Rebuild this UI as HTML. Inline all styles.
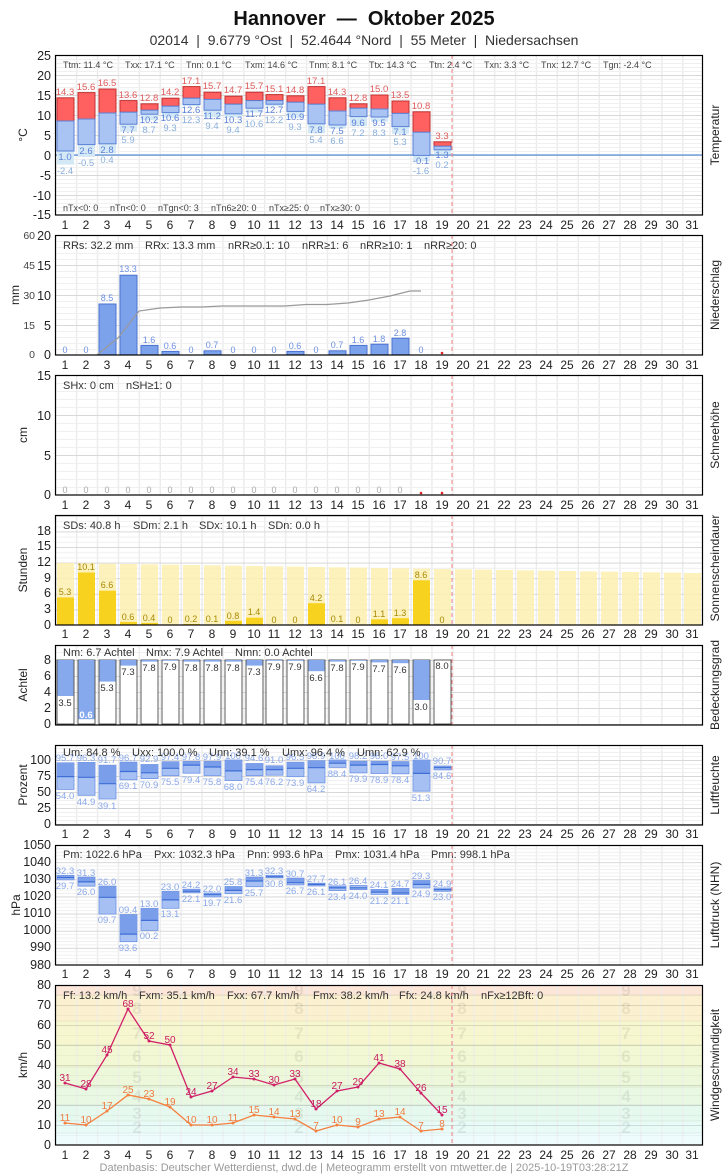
<!DOCTYPE html>
<html><head><meta charset="utf-8"><style>
body{margin:0;background:#fff;width:728px;height:1175px;overflow:hidden}
svg{display:block;font-family:"Liberation Sans",sans-serif}
.ax{font-size:12.5px;fill:#222;text-anchor:end}
.dn text{font-size:12px;fill:#222;text-anchor:middle}
.st{font-size:11px;fill:#333}
.st9{font-size:9px;fill:#444}
.rt{font-size:12px;fill:#222;text-anchor:middle}
.tr{font-size:9.5px;fill:#e05a5a;text-anchor:middle}
.tb{font-size:9.5px;fill:#5b82d8;text-anchor:middle}
.tl{font-size:9.5px;fill:#8ab0dd;text-anchor:middle}
.pl{font-size:9px;fill:#6d90e0;text-anchor:middle}
.hl{font-size:9.5px;fill:#8aa8ea;text-anchor:middle}
.sl{font-size:9px;fill:#a88800;text-anchor:middle}
.cl{font-size:9.5px;fill:#333;text-anchor:middle}
.wx{font-size:10px;fill:#c8185f;text-anchor:middle}
.wf{font-size:10px;fill:#f07a40;text-anchor:middle}
.bf{font-size:17px;font-weight:bold;fill:#000;fill-opacity:.07;text-anchor:middle}
.pre{white-space:pre}
</style></head><body>
<svg width="728" height="1175" viewBox="0 0 728 1175">
<defs>
<pattern id="vg" x="55" y="0" width="20.9" height="20" patternUnits="userSpaceOnUse"><rect x="-1" width="2.5" height="20" fill="#ececec"/></pattern>
<pattern id="hT" x="0" y="55" width="10" height="20" patternUnits="userSpaceOnUse"><rect width="10" height="1" fill="#d8d8d8"/><rect y="4" width="10" height="1" fill="#f0f0f0"/><rect y="8" width="10" height="1" fill="#f0f0f0"/><rect y="12" width="10" height="1" fill="#f0f0f0"/><rect y="16" width="10" height="1" fill="#f0f0f0"/></pattern>
<pattern id="hP" x="0" y="235" width="10" height="30" patternUnits="userSpaceOnUse"><rect width="10" height="1" fill="#d8d8d8"/><rect y="6" width="10" height="1" fill="#f0f0f0"/><rect y="12" width="10" height="1" fill="#f0f0f0"/><rect y="18" width="10" height="1" fill="#f0f0f0"/><rect y="24" width="10" height="1" fill="#f0f0f0"/></pattern>
<pattern id="hS" x="0" y="375" width="10" height="40" patternUnits="userSpaceOnUse"><rect width="10" height="1" fill="#d8d8d8"/><rect y="8" width="10" height="1" fill="#f0f0f0"/><rect y="16" width="10" height="1" fill="#f0f0f0"/><rect y="24" width="10" height="1" fill="#f0f0f0"/><rect y="32" width="10" height="1" fill="#f0f0f0"/></pattern>
<pattern id="hU" x="0" y="625" width="10" height="15.6" patternUnits="userSpaceOnUse"><rect width="10" height="1" fill="#d8d8d8"/><rect y="5.2" width="10" height="1" fill="#f0f0f0"/><rect y="10.4" width="10" height="1" fill="#f0f0f0"/></pattern>
<pattern id="hC" x="0" y="660" width="10" height="16" patternUnits="userSpaceOnUse"><rect width="10" height="1" fill="#d8d8d8"/><rect y="8" width="10" height="1" fill="#f0f0f0"/></pattern>
<pattern id="hH" x="0" y="760" width="10" height="16" patternUnits="userSpaceOnUse"><rect width="10" height="1" fill="#d8d8d8"/><rect y="4" width="10" height="1" fill="#f0f0f0"/><rect y="8" width="10" height="1" fill="#f0f0f0"/><rect y="12" width="10" height="1" fill="#f0f0f0"/></pattern>
<pattern id="hD" x="0" y="845" width="10" height="17.14" patternUnits="userSpaceOnUse"><rect width="10" height="1" fill="#d8d8d8"/><rect y="3.43" width="10" height="1" fill="#f0f0f0"/><rect y="6.86" width="10" height="1" fill="#f0f0f0"/><rect y="10.29" width="10" height="1" fill="#f0f0f0"/><rect y="13.71" width="10" height="1" fill="#f0f0f0"/></pattern>
<pattern id="hW" x="0" y="985" width="10" height="20" patternUnits="userSpaceOnUse"><rect width="10" height="1" fill="#000" fill-opacity=".12"/><rect y="10" width="10" height="1" fill="#000" fill-opacity=".04"/></pattern>
</defs>

<text class="pre" x="364" y="25" font-size="20" font-weight="bold" text-anchor="middle" fill="#111">Hannover  —  Oktober 2025</text>
<text class="pre" x="364" y="45" font-size="14" text-anchor="middle" fill="#333">02014  |  9.6779 °Ost  |  52.4644 °Nord  |  55 Meter  |  Niedersachsen</text>

<!-- TEMPERATURE -->
<rect x="55" y="55" width="648" height="160" fill="url(#vg)"/>
<rect x="55" y="55" width="648" height="160" fill="url(#hT)"/>
<line x1="55" y1="155" x2="703" y2="155" stroke="#5b8fd8" stroke-width="1.2"/>
<g fill="#ff6060" stroke="#c03030" stroke-width="1">
<rect x="57" y="97.8" width="17" height="23.2"/><rect x="78" y="92.6" width="17" height="26.4"/><rect x="99" y="89" width="17" height="24"/><rect x="120" y="100.6" width="17" height="11.6"/><rect x="141" y="103.8" width="17" height="6.4"/><rect x="162" y="98.2" width="17" height="8"/><rect x="183" y="86.6" width="17" height="11.6"/><rect x="204" y="92.2" width="17" height="7.2"/><rect x="225" y="96.2" width="17" height="8"/><rect x="246" y="92.2" width="17" height="8.4"/><rect x="266" y="94.6" width="17" height="6"/><rect x="287" y="95.8" width="17" height="6.4"/><rect x="308" y="86.6" width="17" height="17.6"/><rect x="329" y="97.8" width="17" height="13.2"/><rect x="350" y="103.8" width="17" height="4.4"/><rect x="371" y="95" width="17" height="14"/><rect x="392" y="101" width="17" height="12.4"/><rect x="413" y="111.8" width="17" height="20.4"/><rect x="434" y="141.8" width="17" height="4.4"/>
</g>
<g fill="#d4e8f6">
<rect x="57" y="151" width="17" height="13.6"/><rect x="78" y="144.6" width="17" height="12.4"/><rect x="99" y="143.8" width="17" height="9.6"/><rect x="120" y="124.2" width="17" height="7.2"/><rect x="141" y="114.2" width="17" height="6"/><rect x="162" y="112.6" width="17" height="5.2"/><rect x="183" y="104.6" width="17" height="1.2"/><rect x="204" y="110.2" width="17" height="7.2"/><rect x="225" y="113.8" width="17" height="3.6"/><rect x="246" y="108.2" width="17" height="4.4"/><rect x="266" y="104.2" width="17" height="2"/><rect x="287" y="111.4" width="17" height="6.4"/><rect x="308" y="123.8" width="17" height="9.6"/><rect x="329" y="125" width="17" height="3.6"/><rect x="350" y="116.6" width="17" height="9.6"/><rect x="371" y="117" width="17" height="4.8"/><rect x="392" y="126.6" width="17" height="7.2"/><rect x="413" y="155.4" width="17" height="6"/><rect x="434" y="149.8" width="17" height="4.4"/>
</g>
<g fill="#a9c3f2" stroke="#5b82d8" stroke-width="1">
<rect x="57" y="121" width="17" height="30"/><rect x="78" y="119" width="17" height="25.6"/><rect x="99" y="113" width="17" height="30.8"/><rect x="120" y="112.2" width="17" height="12"/><rect x="141" y="110.2" width="17" height="4"/><rect x="162" y="106.2" width="17" height="6.4"/><rect x="183" y="98.2" width="17" height="6.4"/><rect x="204" y="99.4" width="17" height="10.8"/><rect x="225" y="104.2" width="17" height="9.6"/><rect x="246" y="100.6" width="17" height="7.6"/><rect x="266" y="100.6" width="17" height="3.6"/><rect x="287" y="102.2" width="17" height="9.2"/><rect x="308" y="104.2" width="17" height="19.6"/><rect x="329" y="111" width="17" height="14"/><rect x="350" y="108.2" width="17" height="8.4"/><rect x="371" y="109" width="17" height="8"/><rect x="392" y="113.4" width="17" height="13.2"/><rect x="413" y="132.2" width="17" height="23.2"/><rect x="434" y="146.2" width="17" height="3.6"/>
</g>
<g class="tr"><text x="65" y="95">14.3</text><text x="86" y="90">15.6</text><text x="107" y="86">16.5</text><text x="128" y="98">13.6</text><text x="149" y="101">12.8</text><text x="170" y="95">14.2</text><text x="191" y="84">17.1</text><text x="212" y="89">15.7</text><text x="233" y="93">14.7</text><text x="254" y="89">15.7</text><text x="274" y="92">15.1</text><text x="295" y="93">14.8</text><text x="316" y="84">17.1</text><text x="337" y="95">14.3</text><text x="358" y="101">12.8</text><text x="379" y="92">15.0</text><text x="400" y="98">13.5</text><text x="421" y="109">10.8</text><text x="442" y="139">3.3</text></g>
<g class="tb"><text x="65" y="160">1.0</text><text x="86" y="154">2.6</text><text x="107" y="153">2.8</text><text x="128" y="133">7.7</text><text x="149" y="123">10.2</text><text x="170" y="121">10.6</text><text x="191" y="113">12.6</text><text x="212" y="119">11.2</text><text x="233" y="123">10.3</text><text x="254" y="117">11.7</text><text x="274" y="113">12.7</text><text x="295" y="120">10.9</text><text x="316" y="133">7.8</text><text x="337" y="134">7.5</text><text x="358" y="126">9.6</text><text x="379" y="126">9.5</text><text x="400" y="135">7.1</text><text x="421" y="164">-0.1</text><text x="442" y="158">1.3</text></g>
<g class="tl"><text x="65" y="174">-2.4</text><text x="86" y="166">-0.5</text><text x="107" y="163">0.4</text><text x="128" y="143">5.9</text><text x="149" y="133">8.7</text><text x="170" y="131">9.3</text><text x="191" y="123">12.3</text><text x="212" y="129">9.4</text><text x="233" y="133">9.4</text><text x="254" y="127">10.6</text><text x="274" y="123">12.2</text><text x="295" y="130">9.3</text><text x="316" y="143">5.4</text><text x="337" y="144">6.6</text><text x="358" y="136">7.2</text><text x="379" y="136">8.3</text><text x="400" y="145">5.3</text><text x="421" y="174">-1.6</text><text x="442" y="168">0.2</text></g>
<g class="st9"><text x="63" y="68">Ttm: 11.4 °C</text><text x="125" y="68">Txx: 17.1 °C</text><text x="186" y="68">Tnn: 0.1 °C</text><text x="245" y="68">Txm: 14.6 °C</text><text x="309" y="68">Tnm: 8.1 °C</text><text x="369" y="68">Ttx: 14.3 °C</text><text x="429" y="68">Ttn: 2.4 °C</text><text x="484" y="68">Txn: 3.3 °C</text><text x="541" y="68">Tnx: 12.7 °C</text><text x="603" y="68">Tgn: -2.4 °C</text>
<text x="63" y="211">nTx&lt;0: 0</text><text x="110" y="211">nTn&lt;0: 0</text><text x="158" y="211">nTgn&lt;0: 3</text><text x="211" y="211">nTn6≥20: 0</text><text x="269" y="211">nTx≥25: 0</text><text x="320" y="211">nTx≥30: 0</text></g>
<g class="ax"><text x="51" y="60">25</text><text x="51" y="80">20</text><text x="51" y="100">15</text><text x="51" y="120">10</text><text x="51" y="140">5</text><text x="51" y="160">0</text><text x="51" y="180">-5</text><text x="51" y="200">-10</text><text x="51" y="219">-15</text></g>

<!-- PRECIP -->
<rect x="55" y="235" width="648" height="120" fill="url(#vg)"/>
<rect x="55" y="235" width="648" height="120" fill="url(#hP)"/>
<g fill="#7da2ec" stroke="#4a72d0" stroke-width="1">
<rect x="99" y="304" width="17" height="51"/><rect x="120" y="275.2" width="17" height="79.8"/><rect x="141" y="345.4" width="17" height="9.6"/><rect x="162" y="351.4" width="17" height="3.6"/><rect x="204" y="350.8" width="17" height="4.2"/><rect x="287" y="351.4" width="17" height="3.6"/><rect x="329" y="350.8" width="17" height="4.2"/><rect x="350" y="345.4" width="17" height="9.6"/><rect x="371" y="344.2" width="17" height="10.8"/><rect x="392" y="338.2" width="17" height="16.8"/>
</g>
<polyline points="97,355 118,338 139,311 160,308 181,307 202,307 222,306 243,306 264,306 285,306 306,304.5 327,304.5 348,303 369,300 390,296 410,291 421,291" fill="none" stroke="#999" stroke-width="1.2"/>
<g class="pl"><text x="65" y="353">0</text><text x="86" y="353">0</text><text x="107" y="301">8.5</text><text x="128" y="272">13.3</text><text x="149" y="343">1.6</text><text x="170" y="349">0.6</text><text x="191" y="353">0</text><text x="212" y="348">0.7</text><text x="233" y="353">0</text><text x="254" y="353">0</text><text x="274" y="353">0</text><text x="295" y="349">0.6</text><text x="316" y="353">0</text><text x="337" y="348">0.7</text><text x="358" y="343">1.6</text><text x="379" y="342">1.8</text><text x="400" y="336">2.8</text><text x="421" y="353">0</text></g>
<circle cx="442" cy="353" r="1.3" fill="#e02020"/>
<g class="st"><text x="63" y="249">RRs: 32.2 mm</text><text x="145" y="249">RRx: 13.3 mm</text><text x="228" y="249">nRR≥0.1: 10</text><text x="302" y="249">nRR≥1: 6</text><text x="360" y="249">nRR≥10: 1</text><text x="424" y="249">nRR≥20: 0</text></g>
<g class="ax"><text x="51" y="240">20</text><text x="51" y="270">15</text><text x="51" y="300">10</text><text x="51" y="330">5</text><text x="51" y="359">0</text></g>
<g font-size="10.5" fill="#444" text-anchor="end"><text x="35" y="239">60</text><text x="35" y="269">45</text><text x="35" y="299">30</text><text x="35" y="329">15</text><text x="35" y="358">0</text></g>

<!-- SNOW -->
<rect x="55" y="375" width="648" height="120" fill="url(#vg)"/>
<rect x="55" y="375" width="648" height="120" fill="url(#hS)"/>
<g font-size="9" fill="#aaa" text-anchor="middle"><text x="65" y="493">0</text><text x="86" y="493">0</text><text x="107" y="493">0</text><text x="128" y="493">0</text><text x="149" y="493">0</text><text x="170" y="493">0</text><text x="191" y="493">0</text><text x="212" y="493">0</text><text x="233" y="493">0</text><text x="254" y="493">0</text><text x="274" y="493">0</text><text x="295" y="493">0</text><text x="316" y="493">0</text><text x="337" y="493">0</text><text x="358" y="493">0</text><text x="379" y="493">0</text><text x="400" y="493">0</text></g>
<circle cx="421" cy="493" r="1.3" fill="#e02020"/><circle cx="442" cy="493" r="1.3" fill="#e02020"/>
<g class="st"><text x="63" y="389">SHx: 0 cm</text><text x="126" y="389">nSH≥1: 0</text></g>
<g class="ax"><text x="51" y="380">15</text><text x="51" y="420">10</text><text x="51" y="460">5</text><text x="51" y="499">0</text></g>

<!-- SUN -->
<rect x="55" y="515" width="648" height="110" fill="url(#vg)"/>
<rect x="55" y="515" width="648" height="110" fill="url(#hU)"/>
<g fill="#fdf0b0" fill-opacity=".85">
<rect x="57" y="563" width="17" height="62"/><rect x="78" y="563.3" width="17" height="61.7"/><rect x="99" y="563.7" width="17" height="61.3"/><rect x="120" y="564" width="17" height="61"/><rect x="141" y="564.3" width="17" height="60.7"/><rect x="162" y="564.6" width="17" height="60.4"/><rect x="183" y="565" width="17" height="60"/><rect x="204" y="565.3" width="17" height="59.7"/><rect x="225" y="565.6" width="17" height="59.4"/><rect x="246" y="566" width="17" height="59"/><rect x="266" y="566.3" width="17" height="58.7"/><rect x="287" y="566.6" width="17" height="58.4"/><rect x="308" y="567" width="17" height="58"/><rect x="329" y="567.3" width="17" height="57.7"/><rect x="350" y="567.6" width="17" height="57.4"/><rect x="371" y="568" width="17" height="57"/><rect x="392" y="568.3" width="17" height="56.7"/><rect x="413" y="568.6" width="17" height="56.4"/><rect x="434" y="569" width="17" height="56"/><rect x="455" y="569.3" width="17" height="55.7"/><rect x="475" y="569.6" width="17" height="55.4"/><rect x="496" y="570" width="17" height="55"/><rect x="517" y="570.3" width="17" height="54.7"/><rect x="538" y="570.6" width="17" height="54.4"/><rect x="559" y="571" width="17" height="54"/><rect x="580" y="571.3" width="17" height="53.7"/><rect x="601" y="571.6" width="17" height="53.4"/><rect x="622" y="572" width="17" height="53"/><rect x="643" y="572.3" width="17" height="52.7"/><rect x="664" y="572.6" width="17" height="52.4"/><rect x="684" y="573" width="17" height="52"/>
</g>
<g fill="#f7d21e">
<rect x="57" y="597.4" width="17" height="27.6"/><rect x="78" y="572.5" width="17" height="52.5"/><rect x="99" y="590.7" width="17" height="34.3"/><rect x="120" y="621.9" width="17" height="3.1"/><rect x="141" y="622.9" width="17" height="2.1"/><rect x="183" y="624" width="17" height="1"/><rect x="204" y="624.5" width="17" height="0.5"/><rect x="225" y="620.8" width="17" height="4.2"/><rect x="246" y="617.7" width="17" height="7.3"/><rect x="308" y="603.2" width="17" height="21.8"/><rect x="329" y="624.5" width="17" height="0.5"/><rect x="371" y="619.3" width="17" height="5.7"/><rect x="392" y="618.2" width="17" height="6.8"/><rect x="413" y="580.3" width="17" height="44.7"/>
</g>
<g class="sl"><text x="65" y="595">5.3</text><text x="86" y="570">10.1</text><text x="107" y="588">6.6</text><text x="128" y="620">0.6</text><text x="149" y="621">0.4</text><text x="170" y="623">0</text><text x="191" y="622">0.2</text><text x="212" y="622">0.1</text><text x="233" y="619">0.8</text><text x="254" y="615">1.4</text><text x="274" y="623">0</text><text x="295" y="623">0</text><text x="316" y="601">4.2</text><text x="337" y="622">0.1</text><text x="358" y="623">0</text><text x="379" y="617">1.1</text><text x="400" y="616">1.3</text><text x="421" y="578">8.6</text><text x="442" y="623">0</text></g>
<g class="st"><text x="63" y="529">SDs: 40.8 h</text><text x="133" y="529">SDm: 2.1 h</text><text x="199" y="529">SDx: 10.1 h</text><text x="268" y="529">SDn: 0.0 h</text></g>
<g class="ax"><text x="51" y="535">18</text><text x="51" y="550">15</text><text x="51" y="566">12</text><text x="51" y="582">9</text><text x="51" y="597">6</text><text x="51" y="613">3</text><text x="51" y="629">0</text></g>

<!-- CLOUD -->
<rect x="55" y="645" width="648" height="80" fill="url(#vg)"/>
<rect x="55" y="645" width="648" height="80" fill="url(#hC)"/>
<g fill="#fff" stroke="#333" stroke-width=".8">
<rect x="57" y="660" width="17" height="64"/><rect x="78" y="660" width="17" height="64"/><rect x="99" y="660" width="17" height="64"/><rect x="120" y="660" width="17" height="64"/><rect x="141" y="660" width="17" height="64"/><rect x="162" y="660" width="17" height="64"/><rect x="183" y="660" width="17" height="64"/><rect x="204" y="660" width="17" height="64"/><rect x="225" y="660" width="17" height="64"/><rect x="246" y="660" width="17" height="64"/><rect x="266" y="660" width="17" height="64"/><rect x="287" y="660" width="17" height="64"/><rect x="308" y="660" width="17" height="64"/><rect x="329" y="660" width="17" height="64"/><rect x="350" y="660" width="17" height="64"/><rect x="371" y="660" width="17" height="64"/><rect x="392" y="660" width="17" height="64"/><rect x="413" y="660" width="17" height="64"/><rect x="434" y="660" width="17" height="64"/>
</g>
<g fill="#86a8ec">
<rect x="57.5" y="660" width="16" height="36"/><rect x="78.5" y="660" width="16" height="59.2"/><rect x="99.5" y="660" width="16" height="21.6"/><rect x="120.5" y="660" width="16" height="5.6"/><rect x="141.5" y="660" width="16" height="1.6"/><rect x="162.5" y="660" width="16" height="0.8"/><rect x="183.5" y="660" width="16" height="1.6"/><rect x="204.5" y="660" width="16" height="1.6"/><rect x="225.5" y="660" width="16" height="1.6"/><rect x="246.5" y="660" width="16" height="5.6"/><rect x="266.5" y="660" width="16" height="0.8"/><rect x="287.5" y="660" width="16" height="0.8"/><rect x="308.5" y="660" width="16" height="11.2"/><rect x="329.5" y="660" width="16" height="1.6"/><rect x="350.5" y="660" width="16" height="0.8"/><rect x="371.5" y="660" width="16" height="2.4"/><rect x="392.5" y="660" width="16" height="3.2"/><rect x="413.5" y="660" width="16" height="40"/>
</g>
<g class="cl"><text x="65" y="706">3.5</text><text x="86" y="718" fill="#fff" font-weight="bold">0.6</text><text x="107" y="691">5.3</text><text x="128" y="675">7.3</text><text x="149" y="671">7.8</text><text x="170" y="670">7.9</text><text x="191" y="671">7.8</text><text x="212" y="671">7.8</text><text x="233" y="671">7.8</text><text x="254" y="675">7.3</text><text x="274" y="670">7.9</text><text x="295" y="670">7.9</text><text x="316" y="681">6.6</text><text x="337" y="671">7.8</text><text x="358" y="670">7.9</text><text x="379" y="672">7.7</text><text x="400" y="673">7.6</text><text x="421" y="710">3.0</text><text x="442" y="669">8.0</text></g>
<g class="st"><text x="63" y="656">Nm: 6.7 Achtel</text><text x="146" y="656">Nmx: 7.9 Achtel</text><text x="235" y="656">Nmn: 0.0 Achtel</text></g>
<g class="ax"><text x="51" y="664">8</text><text x="51" y="680">6</text><text x="51" y="696">4</text><text x="51" y="712">2</text><text x="51" y="728">0</text></g>

<!-- HUMIDITY -->
<rect x="55" y="745" width="648" height="80" fill="url(#vg)"/>
<rect x="55" y="745" width="648" height="80" fill="url(#hH)"/>
<g fill="#a6c0f3" stroke="#6d92e4" stroke-width=".8">
<rect x="57" y="762.8" width="17" height="26.6"/><rect x="78" y="762.4" width="17" height="32.9"/><rect x="99" y="765.3" width="17" height="33.7"/><rect x="120" y="762.1" width="17" height="17.7"/><rect x="141" y="764.5" width="17" height="14.1"/><rect x="162" y="761.7" width="17" height="14"/><rect x="183" y="761.4" width="17" height="11.8"/><rect x="204" y="761.3" width="17" height="14.2"/><rect x="225" y="760" width="17" height="20.5"/><rect x="246" y="763.5" width="17" height="12.2"/><rect x="266" y="765.8" width="17" height="9.4"/><rect x="287" y="762.2" width="17" height="14.5"/><rect x="308" y="760.7" width="17" height="22.2"/><rect x="329" y="760" width="17" height="7.4"/><rect x="350" y="761.2" width="17" height="11.7"/><rect x="371" y="761.3" width="17" height="12.2"/><rect x="392" y="761.6" width="17" height="12.2"/><rect x="413" y="760" width="17" height="31.2"/><rect x="434" y="766" width="17" height="3.9"/>
</g>
<g fill="#7a9eea">
<rect x="57.4" y="763.2" width="16.2" height="13.4"/><rect x="78.4" y="762.8" width="16.2" height="14.5"/><rect x="99.4" y="765.7" width="16.2" height="18"/><rect x="120.4" y="762.5" width="16.2" height="9"/><rect x="141.4" y="764.9" width="16.2" height="7.9"/><rect x="162.4" y="762.1" width="16.2" height="6.2"/><rect x="183.4" y="761.8" width="16.2" height="3.3"/><rect x="204.4" y="761.7" width="16.2" height="5.3"/><rect x="225.4" y="760.4" width="16.2" height="10.5"/><rect x="246.4" y="763.9" width="16.2" height="5.7"/><rect x="266.4" y="766.2" width="16.2" height="3.4"/><rect x="287.4" y="762.6" width="16.2" height="5.7"/><rect x="308.4" y="761.1" width="16.2" height="6.6"/><rect x="329.4" y="760.4" width="16.2" height="2.8"/><rect x="350.4" y="761.6" width="16.2" height="3.5"/><rect x="371.4" y="761.7" width="16.2" height="2.8"/><rect x="392.4" y="762" width="16.2" height="3.8"/><rect x="413.4" y="760.4" width="16.2" height="13"/><rect x="434.4" y="766.4" width="16.2" height="1.3"/>
</g>
<g stroke="#3f6fd6" stroke-width="1.2">
<line x1="57" y1="776.6" x2="74" y2="776.6"/><line x1="78" y1="777.3" x2="95" y2="777.3"/><line x1="99" y1="783.7" x2="116" y2="783.7"/><line x1="120" y1="771.5" x2="137" y2="771.5"/><line x1="141" y1="772.8" x2="158" y2="772.8"/><line x1="162" y1="768.3" x2="179" y2="768.3"/><line x1="183" y1="765.1" x2="200" y2="765.1"/><line x1="204" y1="767" x2="221" y2="767"/><line x1="225" y1="770.9" x2="242" y2="770.9"/><line x1="246" y1="769.6" x2="263" y2="769.6"/><line x1="266" y1="769.6" x2="283" y2="769.6"/><line x1="287" y1="768.3" x2="304" y2="768.3"/><line x1="308" y1="767.7" x2="325" y2="767.7"/><line x1="329" y1="763.2" x2="346" y2="763.2"/><line x1="350" y1="765.1" x2="367" y2="765.1"/><line x1="371" y1="764.5" x2="388" y2="764.5"/><line x1="392" y1="765.8" x2="409" y2="765.8"/><line x1="413" y1="773.4" x2="430" y2="773.4"/><line x1="434" y1="767.7" x2="451" y2="767.7"/>
</g>
<g class="hl"><text x="65" y="761">95.7</text><text x="86" y="761">96.3</text><text x="107" y="763">91.7</text><text x="128" y="761">96.7</text><text x="149" y="762">92.9</text><text x="170" y="760">97.4</text><text x="191" y="760">97.8</text><text x="212" y="760">97.9</text><text x="233" y="759">100</text><text x="254" y="761">94.6</text><text x="274" y="763">91.0</text><text x="295" y="760">96.5</text><text x="316" y="759">98.9</text><text x="337" y="759">100</text><text x="358" y="759">98.2</text><text x="379" y="759">98.0</text><text x="400" y="760">97.5</text><text x="421" y="759">100</text><text x="442" y="764">90.7</text>
<text x="65" y="799">54.0</text><text x="86" y="805">44.9</text><text x="107" y="809">39.1</text><text x="128" y="789">69.1</text><text x="149" y="788">70.9</text><text x="170" y="785">75.5</text><text x="191" y="783">79.4</text><text x="212" y="785">75.8</text><text x="233" y="790">68.0</text><text x="254" y="785">75.4</text><text x="274" y="785">76.2</text><text x="295" y="786">73.9</text><text x="316" y="792">64.2</text><text x="337" y="777">88.4</text><text x="358" y="782">79.9</text><text x="379" y="783">78.9</text><text x="400" y="783">78.4</text><text x="421" y="801">51.3</text><text x="442" y="779">84.6</text></g>
<g class="st"><text x="63" y="756">Um: 84.8 %</text><text x="132" y="756">Uxx: 100.0 %</text><text x="209" y="756">Unn: 39.1 %</text><text x="282" y="756">Umx: 96.4 %</text><text x="357" y="756">Umn: 62.9 %</text></g>
<g class="ax"><text x="51" y="764">100</text><text x="51" y="780">75</text><text x="51" y="796">50</text><text x="51" y="812">25</text><text x="51" y="828">0</text></g>

<!-- PRESSURE -->
<rect x="55" y="845" width="648" height="120" fill="url(#vg)"/>
<rect x="55" y="845" width="648" height="120" fill="url(#hD)"/>
<g fill="#a6c0f3" stroke="#6d92e4" stroke-width=".8">
<rect x="57" y="875.3" width="17" height="4.5"/><rect x="78" y="877.1" width="17" height="9"/><rect x="99" y="886.1" width="17" height="28"/><rect x="120" y="914.6" width="17" height="27.1"/><rect x="141" y="908.4" width="17" height="22"/><rect x="162" y="891.3" width="17" height="17"/><rect x="183" y="889.2" width="17" height="3.6"/><rect x="204" y="893" width="17" height="3.9"/><rect x="225" y="886.5" width="17" height="7.2"/><rect x="246" y="877.1" width="17" height="9.6"/><rect x="266" y="875.3" width="17" height="2.6"/><rect x="287" y="878.1" width="17" height="6.8"/><rect x="308" y="883.2" width="17" height="2.7"/><rect x="329" y="885.9" width="17" height="4.7"/><rect x="350" y="885.5" width="17" height="4.1"/><rect x="371" y="889.4" width="17" height="5"/><rect x="392" y="888.4" width="17" height="6.1"/><rect x="413" y="880.5" width="17" height="7.5"/><rect x="434" y="888" width="17" height="3.3"/>
</g>
<g fill="#7a9eea">
<rect x="57.4" y="875.7" width="16.2" height="1.9"/><rect x="78.4" y="877.5" width="16.2" height="4.4"/><rect x="99.4" y="886.5" width="16.2" height="10.8"/><rect x="120.4" y="915" width="16.2" height="19.1"/><rect x="141.4" y="908.8" width="16.2" height="11.6"/><rect x="162.4" y="891.7" width="16.2" height="8.2"/><rect x="183.4" y="889.6" width="16.2" height="1.7"/><rect x="204.4" y="893.4" width="16.2" height="1.3"/><rect x="225.4" y="886.9" width="16.2" height="3.5"/><rect x="246.4" y="877.5" width="16.2" height="3.5"/><rect x="287.4" y="878.5" width="16.2" height="4.2"/><rect x="329.4" y="886.3" width="16.2" height="1.6"/><rect x="371.4" y="889.8" width="16.2" height="2.3"/><rect x="392.4" y="888.8" width="16.2" height="4.2"/><rect x="413.4" y="880.9" width="16.2" height="3.5"/>
</g>
<g stroke="#3f6fd6" stroke-width="1.2">
<line x1="57" y1="877.6" x2="74" y2="877.6"/><line x1="78" y1="881.9" x2="95" y2="881.9"/><line x1="99" y1="897.3" x2="116" y2="897.3"/><line x1="120" y1="934.1" x2="137" y2="934.1"/><line x1="141" y1="920.4" x2="158" y2="920.4"/><line x1="162" y1="899.9" x2="179" y2="899.9"/><line x1="183" y1="891.3" x2="200" y2="891.3"/><line x1="204" y1="894.7" x2="221" y2="894.7"/><line x1="225" y1="890.4" x2="242" y2="890.4"/><line x1="246" y1="881" x2="263" y2="881"/><line x1="266" y1="876.7" x2="283" y2="876.7"/><line x1="287" y1="882.7" x2="304" y2="882.7"/><line x1="308" y1="884.4" x2="325" y2="884.4"/><line x1="329" y1="887.9" x2="346" y2="887.9"/><line x1="350" y1="887.9" x2="367" y2="887.9"/><line x1="371" y1="892.1" x2="388" y2="892.1"/><line x1="392" y1="893" x2="409" y2="893"/><line x1="413" y1="884.4" x2="430" y2="884.4"/><line x1="434" y1="889.6" x2="451" y2="889.6"/>
</g>
<g class="hl"><text x="65" y="874">32.3</text><text x="86" y="876">31.3</text><text x="107" y="885">26.0</text><text x="128" y="913">09.4</text><text x="149" y="907">13.0</text><text x="170" y="890">23.0</text><text x="191" y="888">24.2</text><text x="212" y="892">22.0</text><text x="233" y="885">25.8</text><text x="254" y="876">31.3</text><text x="274" y="874">32.3</text><text x="295" y="877">30.7</text><text x="316" y="882">27.7</text><text x="337" y="885">26.1</text><text x="358" y="884">26.4</text><text x="379" y="888">24.1</text><text x="400" y="887">24.7</text><text x="421" y="879">29.3</text><text x="442" y="887">24.9</text>
<text x="65" y="889">29.7</text><text x="86" y="895">26.0</text><text x="107" y="923">09.7</text><text x="128" y="951">93.6</text><text x="149" y="939">00.2</text><text x="170" y="917">13.1</text><text x="191" y="902">22.1</text><text x="212" y="906">19.7</text><text x="233" y="903">21.6</text><text x="254" y="896">25.7</text><text x="274" y="887">30.8</text><text x="295" y="894">26.7</text><text x="316" y="895">26.1</text><text x="337" y="900">23.4</text><text x="358" y="899">24.0</text><text x="379" y="904">21.2</text><text x="400" y="904">21.1</text><text x="421" y="897">24.9</text><text x="442" y="900">23.0</text></g>
<g class="st"><text x="63" y="858">Pm: 1022.6 hPa</text><text x="154" y="858">Pxx: 1032.3 hPa</text><text x="247" y="858">Pnn: 993.6 hPa</text><text x="335" y="858">Pmx: 1031.4 hPa</text><text x="431" y="858">Pmn: 998.1 hPa</text></g>
<g class="ax"><text x="51" y="849">1050</text><text x="51" y="866">1040</text><text x="51" y="883">1030</text><text x="51" y="900">1020</text><text x="51" y="917">1010</text><text x="51" y="934">1000</text><text x="51" y="951">990</text><text x="51" y="969">980</text></g>

<!-- WIND -->
<rect x="55" y="985" width="648" height="10" fill="#fbe6d8"/>
<rect x="55" y="995" width="648" height="26" fill="#fbf1d0"/>
<rect x="55" y="1021" width="648" height="24" fill="#f7f7cf"/>
<rect x="55" y="1045" width="648" height="22" fill="#f2f8d4"/>
<rect x="55" y="1067" width="648" height="20" fill="#edf8da"/>
<rect x="55" y="1087" width="648" height="18" fill="#e8f8e2"/>
<rect x="55" y="1105" width="648" height="16" fill="#e6f9ee"/>
<rect x="55" y="1121" width="648" height="12" fill="#e8fbf6"/>
<rect x="55" y="1133" width="648" height="12" fill="#effcfd"/>
<rect x="55" y="985" width="648" height="160" fill="url(#vg)" opacity=".6"/>
<rect x="55" y="985" width="648" height="160" fill="url(#hW)"/>
<g stroke="#000" stroke-opacity=".06"><line x1="55" y1="995" x2="703" y2="995"/><line x1="55" y1="1021" x2="703" y2="1021"/><line x1="55" y1="1045" x2="703" y2="1045"/><line x1="55" y1="1067" x2="703" y2="1067"/><line x1="55" y1="1087" x2="703" y2="1087"/><line x1="55" y1="1105" x2="703" y2="1105"/><line x1="55" y1="1121" x2="703" y2="1121"/><line x1="55" y1="1133" x2="703" y2="1133"/></g>
<g class="bf">
<text x="137" y="1133">2</text><text x="137" y="1119">3</text><text x="137" y="1102">4</text><text x="137" y="1083">5</text><text x="137" y="1062">6</text><text x="137" y="1039">7</text><text x="137" y="1014">8</text><text x="137" y="996">9</text>
<text x="299" y="1133">2</text><text x="299" y="1119">3</text><text x="299" y="1102">4</text><text x="299" y="1083">5</text><text x="299" y="1062">6</text><text x="299" y="1039">7</text><text x="299" y="1014">8</text><text x="299" y="996">9</text>
<text x="462" y="1133">2</text><text x="462" y="1119">3</text><text x="462" y="1102">4</text><text x="462" y="1083">5</text><text x="462" y="1062">6</text><text x="462" y="1039">7</text><text x="462" y="1014">8</text><text x="462" y="996">9</text>
<text x="626" y="1133">2</text><text x="626" y="1119">3</text><text x="626" y="1102">4</text><text x="626" y="1083">5</text><text x="626" y="1062">6</text><text x="626" y="1039">7</text><text x="626" y="1014">8</text><text x="626" y="996">9</text>
</g>
<polyline points="65,1083 86,1089 107,1055 128,1009 149,1041 170,1045 191,1097 212,1091 233,1077 254,1079 274,1085 295,1079 316,1109 337,1091 358,1087 379,1063 400,1069 421,1093 442,1115" fill="none" stroke="#d0206a" stroke-width="1.3"/>
<polyline points="65,1123 86,1125 107,1111 128,1095 149,1099 170,1107 191,1125 212,1125 233,1123 254,1115 274,1117 295,1119 316,1131 337,1125 358,1127 379,1119 400,1117 421,1131 442,1129" fill="none" stroke="#f58040" stroke-width="1.3"/>
<g fill="#d0206a"><circle cx="65" cy="1083" r="1.5"/><circle cx="86" cy="1089" r="1.5"/><circle cx="107" cy="1055" r="1.5"/><circle cx="128" cy="1009" r="1.5"/><circle cx="149" cy="1041" r="1.5"/><circle cx="170" cy="1045" r="1.5"/><circle cx="191" cy="1097" r="1.5"/><circle cx="212" cy="1091" r="1.5"/><circle cx="233" cy="1077" r="1.5"/><circle cx="254" cy="1079" r="1.5"/><circle cx="274" cy="1085" r="1.5"/><circle cx="295" cy="1079" r="1.5"/><circle cx="316" cy="1109" r="1.5"/><circle cx="337" cy="1091" r="1.5"/><circle cx="358" cy="1087" r="1.5"/><circle cx="379" cy="1063" r="1.5"/><circle cx="400" cy="1069" r="1.5"/><circle cx="421" cy="1093" r="1.5"/><circle cx="442" cy="1115" r="1.5"/></g>
<g fill="#f58040"><circle cx="65" cy="1123" r="1.5"/><circle cx="86" cy="1125" r="1.5"/><circle cx="107" cy="1111" r="1.5"/><circle cx="128" cy="1095" r="1.5"/><circle cx="149" cy="1099" r="1.5"/><circle cx="170" cy="1107" r="1.5"/><circle cx="191" cy="1125" r="1.5"/><circle cx="212" cy="1125" r="1.5"/><circle cx="233" cy="1123" r="1.5"/><circle cx="254" cy="1115" r="1.5"/><circle cx="274" cy="1117" r="1.5"/><circle cx="295" cy="1119" r="1.5"/><circle cx="316" cy="1131" r="1.5"/><circle cx="337" cy="1125" r="1.5"/><circle cx="358" cy="1127" r="1.5"/><circle cx="379" cy="1119" r="1.5"/><circle cx="400" cy="1117" r="1.5"/><circle cx="421" cy="1131" r="1.5"/><circle cx="442" cy="1129" r="1.5"/></g>
<g class="wx"><text x="65" y="1081">31</text><text x="86" y="1087">28</text><text x="107" y="1053">45</text><text x="128" y="1007">68</text><text x="149" y="1039">52</text><text x="170" y="1043">50</text><text x="191" y="1095">24</text><text x="212" y="1089">27</text><text x="233" y="1075">34</text><text x="254" y="1077">33</text><text x="274" y="1083">30</text><text x="295" y="1077">33</text><text x="316" y="1107">18</text><text x="337" y="1089">27</text><text x="358" y="1085">29</text><text x="379" y="1061">41</text><text x="400" y="1067">38</text><text x="421" y="1091">26</text><text x="442" y="1113">15</text></g>
<g class="wf"><text x="65" y="1121">11</text><text x="86" y="1123">10</text><text x="107" y="1109">17</text><text x="128" y="1093">25</text><text x="149" y="1097">23</text><text x="170" y="1105">19</text><text x="191" y="1123">10</text><text x="212" y="1123">10</text><text x="233" y="1121">11</text><text x="254" y="1113">15</text><text x="274" y="1115">14</text><text x="295" y="1117">13</text><text x="316" y="1129">7</text><text x="337" y="1123">10</text><text x="358" y="1125">9</text><text x="379" y="1117">13</text><text x="400" y="1115">14</text><text x="421" y="1129">7</text><text x="442" y="1127">8</text></g>
<g class="st"><text x="63" y="999">Ff: 13.2 km/h</text><text x="139" y="999">Fxm: 35.1 km/h</text><text x="227" y="999">Fxx: 67.7 km/h</text><text x="313" y="999">Fmx: 38.2 km/h</text><text x="399" y="999">Ffx: 24.8 km/h</text><text x="481" y="999">nFx≥12Bft: 0</text></g>
<g class="ax"><text x="51" y="989">80</text><text x="51" y="1009">70</text><text x="51" y="1029">60</text><text x="51" y="1049">50</text><text x="51" y="1069">40</text><text x="51" y="1089">30</text><text x="51" y="1109">20</text><text x="51" y="1129">10</text><text x="51" y="1149">0</text></g>

<!-- red dashed line and borders -->
<g stroke="#f08080" stroke-width="1" stroke-dasharray="4,3"><line x1="452" y1="55" x2="452" y2="215"/><line x1="452" y1="235" x2="452" y2="355"/><line x1="452" y1="375" x2="452" y2="495"/><line x1="452" y1="515" x2="452" y2="625"/><line x1="452" y1="645" x2="452" y2="725"/><line x1="452" y1="745" x2="452" y2="825"/><line x1="452" y1="845" x2="452" y2="965"/><line x1="452" y1="985" x2="452" y2="1145"/></g>
<g fill="none" stroke="#000" stroke-width="1.2"><rect x="55.5" y="55.5" width="647" height="159.5"/><rect x="55.5" y="235.5" width="647" height="119.5"/><rect x="55.5" y="375.5" width="647" height="119.5"/><rect x="55.5" y="515.5" width="647" height="109.5"/><rect x="55.5" y="645.5" width="647" height="79.5"/><rect x="55.5" y="745.5" width="647" height="79.5"/><rect x="55.5" y="845.5" width="647" height="119.5"/><rect x="55.5" y="985.5" width="647" height="159.5"/></g>

<!-- day rows -->
<g class="dn" transform="translate(0,229)"><text x="65">1</text><text x="86">2</text><text x="107">3</text><text x="128">4</text><text x="149">5</text><text x="170">6</text><text x="191">7</text><text x="212">8</text><text x="233">9</text><text x="254">10</text><text x="274">11</text><text x="295">12</text><text x="316">13</text><text x="337">14</text><text x="358">15</text><text x="379">16</text><text x="400">17</text><text x="421">18</text><text x="442">19</text><text x="463">20</text><text x="483">21</text><text x="504">22</text><text x="525">23</text><text x="546">24</text><text x="567">25</text><text x="588">26</text><text x="609">27</text><text x="630">28</text><text x="651">29</text><text x="672">30</text><text x="692">31</text></g>
<g class="dn" transform="translate(0,369)"><text x="65">1</text><text x="86">2</text><text x="107">3</text><text x="128">4</text><text x="149">5</text><text x="170">6</text><text x="191">7</text><text x="212">8</text><text x="233">9</text><text x="254">10</text><text x="274">11</text><text x="295">12</text><text x="316">13</text><text x="337">14</text><text x="358">15</text><text x="379">16</text><text x="400">17</text><text x="421">18</text><text x="442">19</text><text x="463">20</text><text x="483">21</text><text x="504">22</text><text x="525">23</text><text x="546">24</text><text x="567">25</text><text x="588">26</text><text x="609">27</text><text x="630">28</text><text x="651">29</text><text x="672">30</text><text x="692">31</text></g>
<g class="dn" transform="translate(0,509)"><text x="65">1</text><text x="86">2</text><text x="107">3</text><text x="128">4</text><text x="149">5</text><text x="170">6</text><text x="191">7</text><text x="212">8</text><text x="233">9</text><text x="254">10</text><text x="274">11</text><text x="295">12</text><text x="316">13</text><text x="337">14</text><text x="358">15</text><text x="379">16</text><text x="400">17</text><text x="421">18</text><text x="442">19</text><text x="463">20</text><text x="483">21</text><text x="504">22</text><text x="525">23</text><text x="546">24</text><text x="567">25</text><text x="588">26</text><text x="609">27</text><text x="630">28</text><text x="651">29</text><text x="672">30</text><text x="692">31</text></g>
<g class="dn" transform="translate(0,638)"><text x="65">1</text><text x="86">2</text><text x="107">3</text><text x="128">4</text><text x="149">5</text><text x="170">6</text><text x="191">7</text><text x="212">8</text><text x="233">9</text><text x="254">10</text><text x="274">11</text><text x="295">12</text><text x="316">13</text><text x="337">14</text><text x="358">15</text><text x="379">16</text><text x="400">17</text><text x="421">18</text><text x="442">19</text><text x="463">20</text><text x="483">21</text><text x="504">22</text><text x="525">23</text><text x="546">24</text><text x="567">25</text><text x="588">26</text><text x="609">27</text><text x="630">28</text><text x="651">29</text><text x="672">30</text><text x="692">31</text></g>
<g class="dn" transform="translate(0,838)"><text x="65">1</text><text x="86">2</text><text x="107">3</text><text x="128">4</text><text x="149">5</text><text x="170">6</text><text x="191">7</text><text x="212">8</text><text x="233">9</text><text x="254">10</text><text x="274">11</text><text x="295">12</text><text x="316">13</text><text x="337">14</text><text x="358">15</text><text x="379">16</text><text x="400">17</text><text x="421">18</text><text x="442">19</text><text x="463">20</text><text x="483">21</text><text x="504">22</text><text x="525">23</text><text x="546">24</text><text x="567">25</text><text x="588">26</text><text x="609">27</text><text x="630">28</text><text x="651">29</text><text x="672">30</text><text x="692">31</text></g>
<g class="dn" transform="translate(0,978)"><text x="65">1</text><text x="86">2</text><text x="107">3</text><text x="128">4</text><text x="149">5</text><text x="170">6</text><text x="191">7</text><text x="212">8</text><text x="233">9</text><text x="254">10</text><text x="274">11</text><text x="295">12</text><text x="316">13</text><text x="337">14</text><text x="358">15</text><text x="379">16</text><text x="400">17</text><text x="421">18</text><text x="442">19</text><text x="463">20</text><text x="483">21</text><text x="504">22</text><text x="525">23</text><text x="546">24</text><text x="567">25</text><text x="588">26</text><text x="609">27</text><text x="630">28</text><text x="651">29</text><text x="672">30</text><text x="692">31</text></g>
<g class="dn" transform="translate(0,1159)"><text x="65">1</text><text x="86">2</text><text x="107">3</text><text x="128">4</text><text x="149">5</text><text x="170">6</text><text x="191">7</text><text x="212">8</text><text x="233">9</text><text x="254">10</text><text x="274">11</text><text x="295">12</text><text x="316">13</text><text x="337">14</text><text x="358">15</text><text x="379">16</text><text x="400">17</text><text x="421">18</text><text x="442">19</text><text x="463">20</text><text x="483">21</text><text x="504">22</text><text x="525">23</text><text x="546">24</text><text x="567">25</text><text x="588">26</text><text x="609">27</text><text x="630">28</text><text x="651">29</text><text x="672">30</text><text x="692">31</text></g>

<!-- axis titles -->
<g class="rt">
<text transform="translate(27,135) rotate(-90)">°C</text>
<text transform="translate(19,295) rotate(-90)">mm</text>
<text transform="translate(27,435) rotate(-90)">cm</text>
<text transform="translate(27,570) rotate(-90)">Stunden</text>
<text transform="translate(27,685) rotate(-90)">Achtel</text>
<text transform="translate(27,785) rotate(-90)">Prozent</text>
<text transform="translate(20,905) rotate(-90)">hPa</text>
<text transform="translate(27,1065) rotate(-90)">km/h</text>
<text transform="translate(719,135) rotate(-90)">Temperatur</text>
<text transform="translate(719,295) rotate(-90)">Niederschlag</text>
<text transform="translate(719,435) rotate(-90)">Schneehöhe</text>
<text transform="translate(719,568) rotate(-90)">Sonnenscheindauer</text>
<text transform="translate(719,685) rotate(-90)">Bedeckungsgrad</text>
<text transform="translate(719,785) rotate(-90)">Luftfeuchte</text>
<text transform="translate(719,905) rotate(-90)">Luftdruck (NHN)</text>
<text transform="translate(719,1065) rotate(-90)">Windgeschwindigkeit</text>
</g>
<text x="364" y="1171" font-size="11" fill="#999" text-anchor="middle">Datenbasis: Deutscher Wetterdienst, dwd.de | Meteogramm erstellt von mtwetter.de | 2025-10-19T03:28:21Z</text>
</svg>
</body></html>
